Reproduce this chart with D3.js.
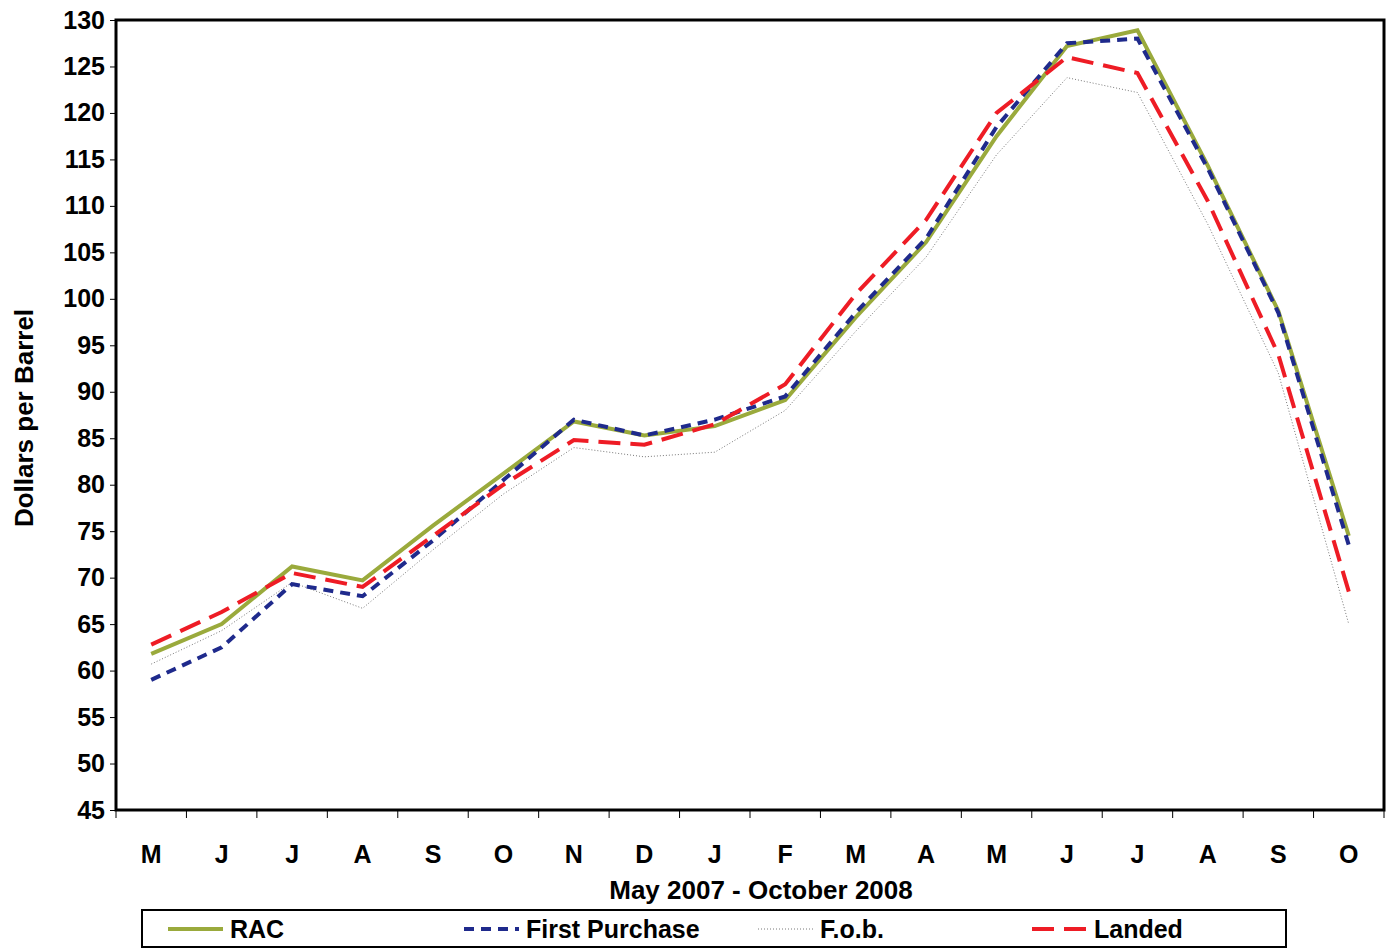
<!DOCTYPE html>
<html><head><meta charset="utf-8">
<script src="https://cdn.jsdelivr.net/npm/d3@7"></script>
<style>body{margin:0;background:#fff;font-family:Arial,"Liberation Sans",sans-serif;}</style>
</head><body>
<svg id="c" width="1393" height="949"></svg>
<script>
var months = ["M","J","J","A","S","O","N","D","J","F","M","A","M","J","J","A","S","O"];
var rac = [61.8,65,71.2,69.7,75.6,81.2,86.8,85.3,86.3,89.1,98,106.1,117.5,127.2,128.9,114.3,98.7,74.5];
var firstPurchase = [59,62.5,69.3,68,74,80.5,87,85.3,87,89.5,98.5,106.5,118.5,127.5,128,114,98.5,73.5];
var fob = [60.7,64.3,69.5,66.7,73,79,84,83,83.5,88,96.5,104.5,115.5,123.8,122.2,108,92,65];
var landed = [62.8,66.3,70.5,69,74.5,80,84.8,84.3,86.5,90.8,100.5,108.5,120,126,124.3,110.5,94,68.5];
var yTicks = d3.range(45,131,5);

var svg = d3.select("#c");
var L=116,R=1384,T=20,B=810;
var x = d3.scaleBand().domain(d3.range(months.length)).range([L,R]);
var y = d3.scaleLinear().domain([45,130]).range([B,T]);

svg.append("rect").attr("x",L).attr("y",T).attr("width",R-L).attr("height",B-T)
  .attr("fill","none").attr("stroke","#000").attr("stroke-width",3);

var ya = svg.append("g").attr("transform","translate("+L+",0)")
  .call(d3.axisLeft(y).tickValues(yTicks).tickSize(6).tickPadding(5));
ya.select(".domain").remove();
ya.selectAll("text").attr("font-size",25).attr("font-weight","bold").attr("fill","#000");

var xa = svg.append("g").attr("transform","translate(0,"+(B+2)+")")
  .call(d3.axisBottom(x).tickFormat(function(i){return months[i];}).tickSize(0).tickPadding(33));
xa.select(".domain").remove();
xa.selectAll("text").attr("font-size",25).attr("font-weight","bold").attr("fill","#000");
svg.append("g").selectAll("line").data(d3.range(months.length+1)).enter().append("line")
  .attr("x1",function(i){return L+i*x.step();}).attr("x2",function(i){return L+i*x.step();})
  .attr("y1",B).attr("y2",B+8).attr("stroke","#000");

svg.append("text").attr("x",761).attr("y",899).attr("text-anchor","middle")
  .attr("font-size",26).attr("font-weight","bold").text("May 2007 - October 2008");
svg.append("text").attr("transform","translate(33,418) rotate(-90)").attr("text-anchor","middle")
  .attr("font-size",26).attr("font-weight","bold").text("Dollars per Barrel");

var series = [
  {name:"RAC",data:rac,color:"#9aaa3c",w:4,dash:null},
  {name:"First Purchase",data:firstPurchase,color:"#1f2a8c",w:4,dash:"10,7"},
  {name:"F.o.b.",data:fob,color:"#555",w:0.8,dash:"1,2"},
  {name:"Landed",data:landed,color:"#ee1c25",w:4,dash:"22,10"}
];
var line = d3.line().x(function(d,i){return x(i)+x.bandwidth()/2;}).y(function(d){return y(d);});
[2,0,1,3].forEach(function(k){
  var s=series[k];
  svg.append("path").attr("d",line(s.data)).attr("fill","none").attr("stroke",s.color)
    .attr("stroke-width",s.w).attr("stroke-dasharray",s.dash);
});

svg.append("rect").attr("x",142).attr("y",910).attr("width",1144).attr("height",37)
  .attr("fill","#fff").attr("stroke","#000").attr("stroke-width",2);
var lx=[168,464,758,1032];
series.forEach(function(s,i){
  svg.append("line").attr("x1",lx[i]).attr("x2",lx[i]+55).attr("y1",929).attr("y2",929)
    .attr("stroke",s.color).attr("stroke-width",s.w).attr("stroke-dasharray",s.dash);
  svg.append("text").attr("x",lx[i]+62).attr("y",938).attr("font-size",25).attr("font-weight","bold").text(s.name);
});
</script>
</body></html>
